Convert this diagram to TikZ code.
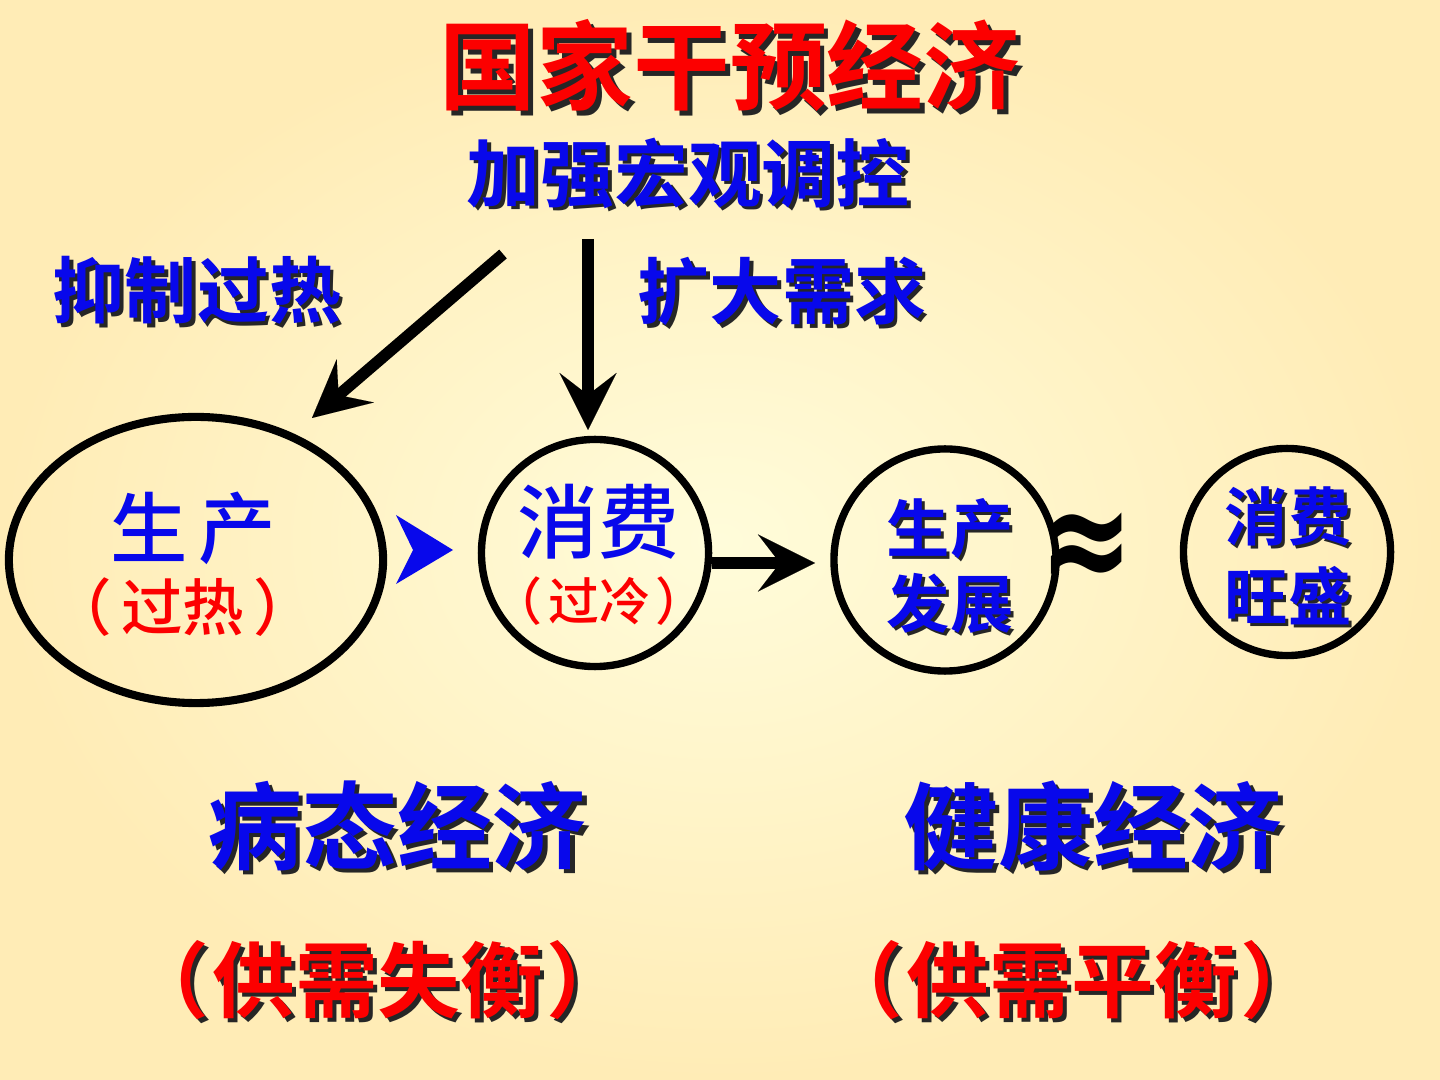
\documentclass[tikz,border=0pt]{standalone}
\usepackage{fontspec}
\newfontfamily\cjk{Noto Sans CJK SC}[UprightFont=* Bold]
\newfontfamily\cjkm{Noto Sans CJK SC}[UprightFont=* Medium]
\newfontfamily\sym{DejaVu Sans}[UprightFont=* Bold]
\usetikzlibrary{arrows.meta,shapes.geometric}
\definecolor{bgin}{RGB}{255,252,218}
\definecolor{bgout}{RGB}{255,236,182}
\definecolor{hblue}{RGB}{8,8,235}
\definecolor{hred}{RGB}{252,0,0}
\newcommand\fs[1]{\fontsize{#1}{#1}\selectfont}
% text with a dark drop shadow: offset, colour, text
\newcommand\shd[3]{\makebox[0pt][l]{\raisebox{-#1}{\hspace{#1}\color{black!85}#3}}\textcolor{#2}{#3}}
\newcommand\pgap[1][0.15em]{\hspace{#1}}
\tikzset{
  every node/.style={inner sep=0pt},
  ring/.style={draw,line width=2.1pt},
  bigarr/.style={line width=3.3pt,-{Stealth[length=0.57cm,width=0.57cm,inset=0.22cm,line width=0.01pt]}},
}
\begin{document}
\begin{tikzpicture}[x=0.01cm,y=-0.01cm]
\shade[inner color=bgin,outer color=bgout] (0,0) rectangle (1440,1080);
\useasboundingbox (0,0) rectangle (1440,1080);

% headings
\node (title) at (730,68) {\cjk\fs{27.5}\shd{1.4pt}{hred}{国家干预经济}};
\node (macro) at (688,175) {\cjk\fs{21}\shd{1.1pt}{hblue}{加强宏观调控}};
\node (cool) at (197,292) {\cjk\fs{20.5}\shd{1.1pt}{hblue}{抑制过热}};
\node (boost) at (782,293) {\cjk\fs{20.5}\shd{1.1pt}{hblue}{扩大需求}};

% the four rings
\node[ring,ellipse,line width=2.3pt,minimum width=3.74cm,minimum height=2.86cm] (prodA) at (196,560) {};
\node[ring,circle,minimum size=2.27cm] (consA) at (595,553) {};
\node[ring,circle,minimum size=2.22cm] (prodB) at (945,560) {};
\node[ring,circle,minimum size=2.07cm] (consB) at (1287,552) {};

\node (prodAt) at (193,528) {\cjkm\fs{22}\color{hblue}生\hspace{3pt}产};
\node (prodAs) at (183,607) {\cjkm\fs{17.5}\color{hred}（\pgap 过热\pgap ）};
\node (consAt) at (598,522) {\cjkm\fs{23}\color{hblue}消费};
\node (consAs) at (599,601) {\cjkm\fs{14.5}\color{hred}（\pgap[0.1em]过冷\pgap[0.1em]）};
\node (prodBt) at (950,530) {\cjk\fs{18}\shd{0.9pt}{hblue}{生产}};
\node (prodBs) at (950,605) {\cjk\fs{18}\shd{0.9pt}{hblue}{发展}};
\node (consBt) at (1288,518) {\cjk\fs{18}\shd{0.9pt}{hblue}{消费}};
\node (consBs) at (1288,597) {\cjk\fs{18}\shd{0.9pt}{hblue}{旺盛}};

\node (approx) at (1087,552) {\sym\fs{32}\scalebox{1}[1.35]{≈}};

% arrows
\coordinate (dA) at (503,254);
\coordinate (dB) at (312,418);
\coordinate (vA) at (588,239);
\coordinate (vB) at (588,430);
\coordinate (hB) at (815,563);
\draw[bigarr] (dA) -- (dB);
\draw[bigarr] (vA) -- (vB);
\draw[bigarr] (consA.east |- hB) -- (hB);
\fill[hblue] (396,515) -- (453,550) -- (396,584) -- (413,550) -- cycle;

% verdicts
\node (sick) at (397,828) {\cjk\fs{27}\shd{1.2pt}{hblue}{病态经济}};
\node (sickp) at (378,982) {\cjk\fs{23.5}\shd{1.1pt}{hred}{（\pgap[0.04em]供需失衡\pgap[0.04em]）}};
\node (well) at (1093,828) {\cjk\fs{27}\shd{1.2pt}{hblue}{健康经济}};
\node (wellp) at (1072,982) {\cjk\fs{23.5}\shd{1.1pt}{hred}{（\pgap[0.04em]供需平衡\pgap[0.04em]）}};
\end{tikzpicture}
\end{document}
